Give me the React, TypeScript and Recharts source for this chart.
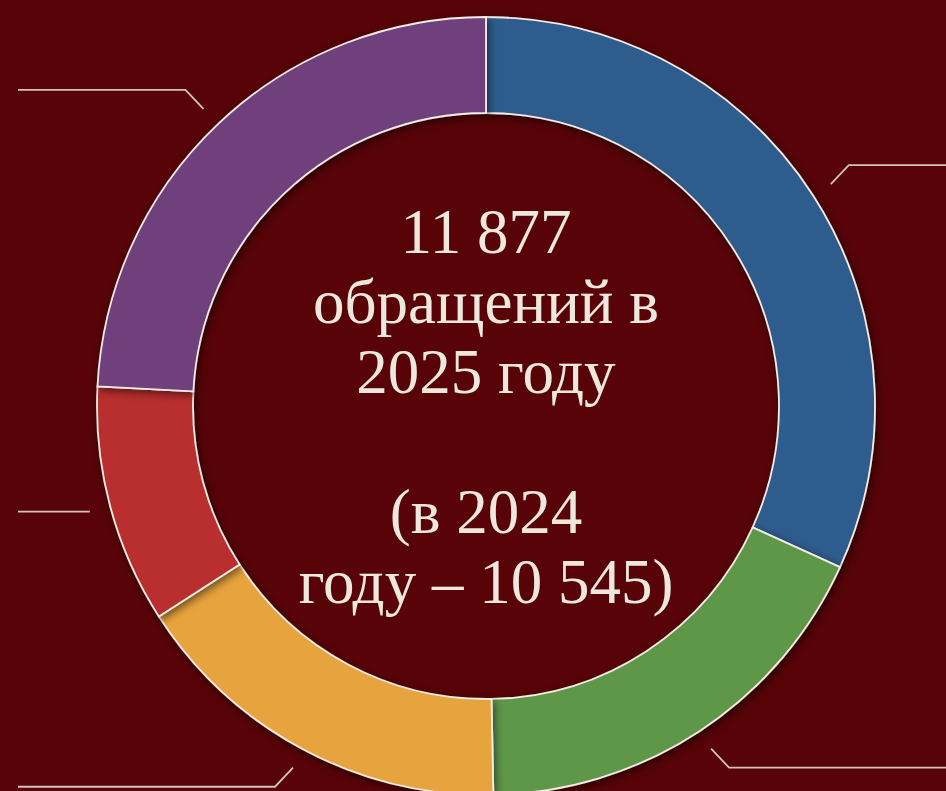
import * as React from 'react';
import { PieChart, Pie, Cell } from 'recharts';

// shares of appeals by category, read clockwise from 12 o'clock
const categories = ['blue', 'green', 'orange', 'red', 'purple'];
const shares = [31.8, 17.9, 16.2, 9.9, 24.2];
const colors = ['#2E5B8D', '#5E974A', '#E7A33D', '#B92D2E', '#6F3F7C'];

const centerLines = ['11 877', 'обращений в', '2025 году', '', '(в 2024', 'году – 10 545)'];

const W = 946;
const H = 791;
const BG = '#570307';
const TEXT = '#EEE8DC';
const LINE = '#D2C3BB';

const RADIAN = Math.PI / 180;

interface LeaderProps {
  cx: number;
  cy: number;
  midAngle: number;
  outerRadius: number;
  index: number;
}

// leader line: short elbow from the slice, then flat to the page edge
function Leader({ cx, cy, midAngle, outerRadius, index }: LeaderProps) {
  const r = outerRadius + 21;
  const sx = cx + r * Math.cos(-midAngle * RADIAN);
  const sy = cy + r * Math.sin(-midAngle * RADIAN);
  const right = Math.cos(-midAngle * RADIAN) >= 0;
  const up = Math.sin(-midAngle * RADIAN) < 0;
  const flat = Math.abs(Math.sin(-midAngle * RADIAN)) < 0.3;
  const ex = flat ? sx : sx + (right ? 18 : -18);
  const ey = flat ? sy : sy + (up ? -19 : 19);
  const endX = right ? W : 18;
  return (
    <polyline
      key={`leader-${index}`}
      points={`${sx},${sy} ${ex},${ey} ${endX},${ey}`}
      fill="none"
      stroke={LINE}
      strokeWidth={1.8}
    />
  );
}

export default function App() {
  const data = categories.map((name, i) => ({ name, value: shares[i] }));
  const lineH = 70;
  const firstBaseline = 253;

  return (
    <div style={{ position: 'relative', width: W, height: H, background: BG }}>
      <style>{'body{margin:0}'}</style>
      <PieChart width={W} height={H} margin={{ top: 0, right: 0, bottom: 0, left: 0 }}>
        <defs>
          <filter id="sliceShadow" x="-20%" y="-20%" width="140%" height="140%">
            <feDropShadow dx="2" dy="3" stdDeviation="4" floodColor="#000" floodOpacity="0.55" />
          </filter>
        </defs>
        <Pie
          data={data}
          dataKey="value"
          nameKey="name"
          cx={486}
          cy={406}
          innerRadius={293}
          outerRadius={389}
          startAngle={90}
          endAngle={-270}
          stroke="#F3EDE6"
          strokeWidth={1.8}
          isAnimationActive={false}
          labelLine={false}
          label={(props: any) => <Leader {...props} />}
        >
          {data.map((d, i) => (
            <Cell key={d.name} fill={colors[i]} filter="url(#sliceShadow)" />
          ))}
        </Pie>
        {centerLines.map((t, i) => (
          <text
            key={i}
            x={486}
            y={firstBaseline + i * lineH}
            textAnchor="middle"
            fill={TEXT}
            fontFamily="'Liberation Serif', serif"
            fontSize={63}
          >
            {t}
          </text>
        ))}
      </PieChart>
    </div>
  );
}
